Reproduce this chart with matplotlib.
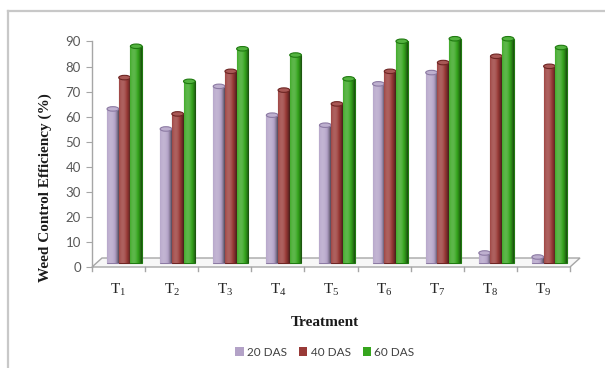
import numpy as np
import matplotlib
matplotlib.use("Agg")
import matplotlib.pyplot as plt
from matplotlib import transforms
from matplotlib.patches import Ellipse, Polygon, Rectangle
from matplotlib.lines import Line2D
from matplotlib.colors import to_rgb

plt.rcParams["mathtext.fontset"] = "custom"
plt.rcParams["mathtext.rm"] = "Liberation Serif"

# ---- data ----
treatments = ["T$_\\mathregular{1}$", "T$_\\mathregular{2}$", "T$_\\mathregular{3}$",
              "T$_\\mathregular{4}$", "T$_\\mathregular{5}$", "T$_\\mathregular{6}$",
              "T$_\\mathregular{7}$", "T$_\\mathregular{8}$", "T$_\\mathregular{9}$"]
series_names = ["20 DAS", "40 DAS", "60 DAS"]
das20 = [61.5, 53.5, 70.5, 59.0, 55.0, 71.5, 76.0, 4.0, 2.4]
das40 = [74.0, 59.5, 76.5, 69.0, 63.5, 76.5, 80.0, 82.5, 78.5]
das60 = [86.5, 72.5, 85.5, 83.0, 73.5, 88.5, 89.5, 89.5, 86.0]
yticks = [0, 10, 20, 30, 40, 50, 60, 70, 80, 90]

colors = ["#b3a2c7", "#993a37", "#35a51d"]
edges = ["#8c7aa3", "#6e2523", "#1f7a10"]

W, H = 605, 368
fig = plt.figure(figsize=(W / 100, H / 100), dpi=100)

# axes frame in pixel terms
x0, x1 = 92, 570
y0, y1 = 267, 41.5
ax = fig.add_axes([x0 / W, 1 - y0 / H, (x1 - x0) / W, (y0 - y1) / H])
n = len(treatments)
ax.set_xlim(-0.5, n - 0.5)
ax.set_ylim(0, 90)
for s in ["top", "right", "bottom"]:
    ax.spines[s].set_visible(False)
ax.spines["left"].set_color("#a6a6a6")
ax.spines["left"].set_linewidth(1.0)
ax.set_yticks(yticks)
ax.tick_params(axis="y", length=4, color="#a6a6a6", labelsize=9.5,
               labelcolor="#595959", pad=4)
for lab in ax.get_yticklabels():
    lab.set_family("Lato")
ax.set_xticks([])

# floor of the pseudo-3D chart
depth_dx, depth_dy = 10 / ((x1 - x0) / n), 9 * 90 / (y0 - y1)
floor = Polygon([(-0.5, 0), (n - 0.5, 0), (n - 0.5 + depth_dx, depth_dy),
                 (-0.5 + depth_dx, depth_dy)], closed=True,
                facecolor="#f7f7f7", edgecolor="#a6a6a6", lw=1.0,
                clip_on=False, zorder=1)
ax.add_patch(floor)
tick_len = 4 * 90 / (y0 - y1)
for b in np.arange(-0.5, n, 1.0):
    ax.plot([b, b], [0, -tick_len], color="#a6a6a6", lw=1.0, clip_on=False, zorder=1)

# bars sit half-way back on the floor
bar_tr = transforms.offset_copy(ax.transData, fig=fig, x=6, y=4, units="dots")
bw = 0.22
offsets = [-bw, 0.0, bw]
xs = np.arange(n)
ell_h = 4.5 * 90 / (y0 - y1)

def shade(c, f):
    r = np.array(to_rgb(c))
    return tuple(np.clip(r * f, 0, 1)) if f < 1 else tuple(r + (1 - r) * (f - 1))

for si, vals in enumerate([das20, das40, das60]):
    bars = ax.bar(xs + offsets[si], vals, width=bw, color=colors[si],
                  edgecolor=edges[si], linewidth=0.8, transform=bar_tr,
                  clip_on=False, zorder=3 + si)
    for rect, v in zip(bars, vals):
        bx = rect.get_x()
        # cylinder shading
        grad = np.linspace(0, 1, 32)
        prof = 1.2 - 1.5 * (grad - 0.3) ** 2
        rgb = np.array([shade(colors[si], f) for f in prof])[None, :, :]
        im = ax.imshow(rgb, extent=(bx, bx + bw, 0, v), aspect="auto",
                       transform=bar_tr, zorder=3 + si, interpolation="bilinear")
        im.set_clip_path(rect)
        top = Ellipse((bx + bw / 2, v), bw, ell_h, transform=bar_tr,
                      facecolor=shade(colors[si], 1.15), edgecolor=edges[si],
                      lw=0.8, clip_on=False, zorder=3 + si)
        ax.add_patch(top)

ax.set_xlim(-0.5, n - 0.5)
ax.set_ylim(0, 90)

# category labels
for i, t in enumerate(treatments):
    ax.text(i, -9.2, t, ha="center", va="center", fontsize=11,
            family="Liberation Serif", color="#262626")

fig.text(45 / W, 1 - 188 / H, "Weed Control Efficiency (%)", rotation=90,
         ha="center", va="center", fontsize=11, fontweight="bold",
         family="Liberation Serif", color="#1a1a1a")
fig.text(325 / W, 1 - 322 / H, "Treatment", ha="center", va="center",
         fontsize=11, fontweight="bold", family="Liberation Serif", color="#1a1a1a")

handles = [Rectangle((0, 0), 1, 1, facecolor=c) for c in colors]
leg = fig.legend(handles, series_names, loc="center", bbox_to_anchor=(325 / W, 1 - 352 / H),
                 ncol=3, frameon=False, handlelength=0.7,
                 handleheight=0.7, handletextpad=0.3, columnspacing=1.0,
                 prop={"family": "Lato", "size": 8.5})
for t in leg.get_texts():
    t.set_color("#404040")

# outer frame lines
fig.add_artist(Line2D([8 / W, 1], [1 - 11 / H, 1 - 11 / H], transform=fig.transFigure,
                      color="#c8c8c8", lw=1.6))
fig.add_artist(Line2D([8 / W, 8 / W], [0, 1 - 11 / H], transform=fig.transFigure,
                      color="#c8c8c8", lw=1.6))

fig.savefig("out.png", dpi=100)
